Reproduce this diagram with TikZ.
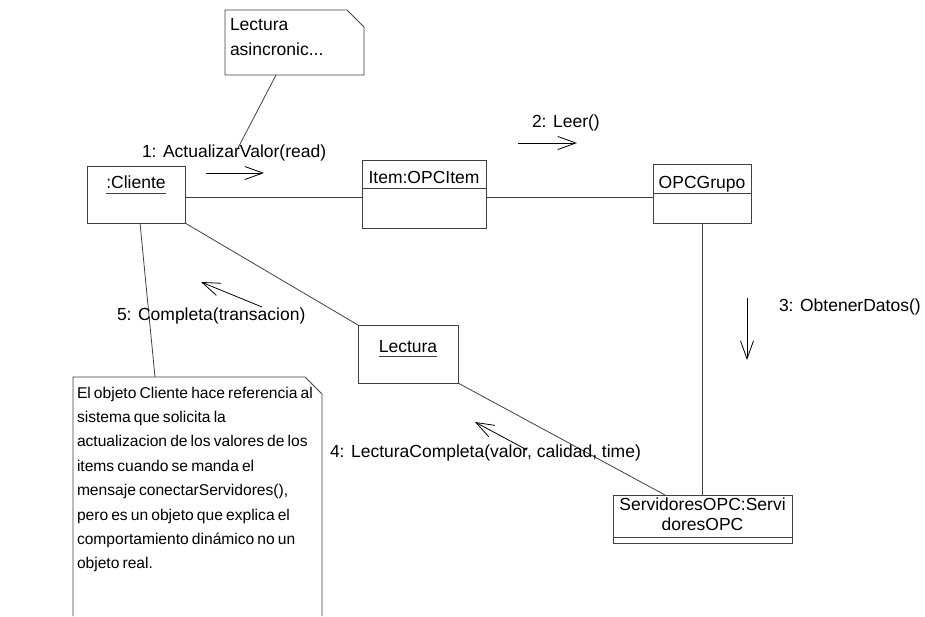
\documentclass[tikz,border=0pt]{standalone}
\usepackage{fontspec}
\setmainfont{Liberation Sans}
\usetikzlibrary{arrows.meta,calc}
% note text: slightly smaller, with tighter word spaces
\newcommand\notefontsel{\fontsize{15.6}{20}\selectfont\spaceskip=0.2em\relax}
\begin{document}
\begin{tikzpicture}[x=1pt,y=-1pt,
  every node/.style={inner sep=0pt, outer sep=0pt},
  txt/.style={font=\fontsize{17.5}{20}\selectfont},
  notetxt/.style={font=\notefontsel, anchor=base west},
  lbl/.style={txt, anchor=base west},
  objname/.style={txt, anchor=base},
  objbox/.style={draw=black!75, line width=0.8pt, fill=white},
  frame/.style={draw=black!75, line width=0.8pt},
  link/.style={draw=black!75, line width=0.8pt},
  msg/.style={draw=black, line width=0.8pt,
    -{Straight Barb[length=18pt,width=13pt,line width=0.8pt]}},
]
\useasboundingbox (0,0) rectangle (925,616);

% ---------- objects ----------
\node[objbox, minimum width=98pt,  minimum height=57pt] (cli)  at (136,194.5) {};
\node[objbox, minimum width=124pt, minimum height=68pt] (item) at (424,194)   {};
\node[objbox, minimum width=98pt,  minimum height=59pt] (grp)  at (702,193.5) {};
\node[objbox, minimum width=100pt, minimum height=58pt] (lec)  at (408,354)   {};
\node[objbox, minimum width=179pt, minimum height=48pt] (srv)  at (702.5,519) {};

\node[objname] (tcli)  at (136,188) {:Cliente};
\draw[frame] ([yshift=-5pt]tcli.base west) -- ([yshift=-5pt]tcli.base east);

\node[objname] (titem) at (424,183) {Item:OPCItem};
\draw[frame] ([yshift=-28pt]item.north west) -- ([yshift=-28pt]item.north east);

\node[objname] (tgrp)  at (702,188) {OPCGrupo};
\draw[frame] ([yshift=-29pt]grp.north west) -- ([yshift=-29pt]grp.north east);

\node[objname] (tlec)  at (408,352) {Lectura};
\draw[frame] ([yshift=-4.5pt]tlec.base west) -- ([yshift=-4.5pt]tlec.base east);

\node[objname] (tsrv1) at (702.5,510.7) {ServidoresOPC:Servi};
\node[objname] (tsrv2) at (702.5,530.7) {doresOPC};
\draw[frame] ([yshift=6pt]srv.south west) -- ([yshift=6pt]srv.south east);

% ---------- links ----------
\draw[link] ([yshift=-2.5pt]cli.east) -- ([yshift=-3pt]item.west);
\draw[link] ([yshift=-3pt]item.east) -- ([yshift=-3.5pt]grp.west);
\draw[link] (cli.south east) -- (lec.north west);
\draw[link] (lec.south east) -- ([xshift=52pt]srv.north west);
\draw[link] (grp.south) -- (grp.south |- srv.north);

% ---------- notes ----------
\node[minimum width=139pt, minimum height=65pt] (nA) at (294.5,42.5) {};
\draw[frame, fill=white] (nA.south west) -- (nA.north west)
  -- ([xshift=-17pt]nA.north east) -- ([yshift=-17pt]nA.north east)
  -- (nA.south east) -- cycle;
\node[lbl] (nA1) at (230,30) {Lectura};
\node[lbl] (nA2) at (230,55) {asincronic...};

\node[minimum width=249pt, minimum height=239pt] (nB) at (197.5,496.5) {};
\fill[white] (nB.south west) -- (nB.north west)
  -- ([xshift=-17pt]nB.north east) -- ([yshift=-17pt]nB.north east)
  -- (nB.south east) -- cycle;
\draw[frame] (nB.south west) -- (nB.north west)
  -- ([xshift=-17pt]nB.north east) -- ([yshift=-17pt]nB.north east)
  -- (nB.south east);
\foreach \t [count=\i from 0] in {
  El objeto Cliente hace referencia al,
  sistema que solicita la,
  actualizacion de los valores de los,
  items cuando se manda el,
  {mensaje conectarServidores(),},
  pero es un objeto que explica el,
  comportamiento dinámico no un,
  objeto real.}
  \node[notetxt] (nB\i) at (77,398+24.4*\i) {\t};

% note anchors
\coordinate (m1top) at (238,148);
\draw[link] ([xshift=-18.5pt]nA.south) -- (m1top);
\draw[link] ([xshift=4pt]cli.south) -- ([xshift=-42.5pt]nB.north);

% ---------- messages ----------
\node[lbl] (m1) at (142,157) {1: ActualizarValor(read)};
\node[lbl] (m2) at (532,127) {2: Leer()};
\node[lbl] (m3) at (779,311) {3: ObtenerDatos()};
\node[lbl] (m4) at (330,457) {4: LecturaCompleta(valor, calidad, time)};
\node[lbl] (m5) at (117,320) {5: Completa(transacion)};

\coordinate (a1s) at (206,173);  \coordinate (a1e) at (264,173);
\coordinate (a2s) at (518,143);  \coordinate (a2e) at (577,143);
\coordinate (a3s) at (747,298);  \coordinate (a3e) at (747,360);
\coordinate (a4s) at (527,450);  \coordinate (a4e) at (475,422);
\coordinate (a5s) at (262,307);  \coordinate (a5e) at (201,282);
\draw[msg] (a1s) -- (a1e);
\draw[msg] (a2s) -- (a2e);
\draw[msg] (a3s) -- (a3e);
\draw[msg] (a4s) -- (a4e);
\draw[msg] (a5s) -- (a5e);
\end{tikzpicture}
\end{document}
